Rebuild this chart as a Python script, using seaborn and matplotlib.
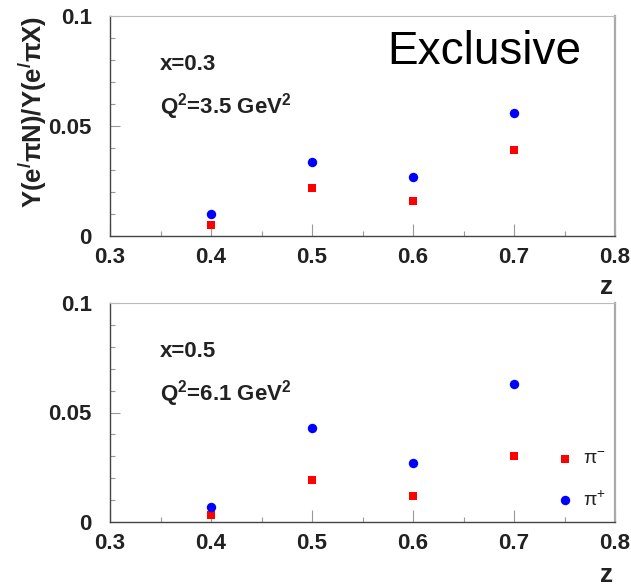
import numpy as np
import pandas as pd
import matplotlib
matplotlib.use("Agg")
import matplotlib.pyplot as plt
import seaborn as sns
from matplotlib.ticker import MultipleLocator, FixedLocator

# ---- data ----
z_values = [0.4, 0.5, 0.6, 0.7]
top_pip = [0.0100, 0.0336, 0.0268, 0.0559]
top_pim = [0.0050, 0.0218, 0.0160, 0.0390]
bot_pip = [0.0070, 0.0430, 0.0270, 0.0630]
bot_pim = [0.0030, 0.0190, 0.0120, 0.0300]
panel_x_text = ["x=0.3", "x=0.5"]
panel_q2_text = ["Q$^{2}$=3.5 GeV$^{2}$", "Q$^{2}$=6.1 GeV$^{2}$"]
series_labels = ["π$^{-}$", "π$^{+}$"]
xtick_values = [0.3, 0.4, 0.5, 0.6, 0.7, 0.8]
xtick_labels = ["0.3", "0.4", "0.5", "0.6", "0.7", "0.8"]
ytick_values = [0.0, 0.05, 0.1]
ytick_labels = ["0", "0.05", "0.1"]
ylabel_text = "Y(e$^{/}$πN)/Y(e$^{/}$πX)"
xlabel_text = "z"
title_text = "Exclusive"

sns.set_style("ticks")
plt.rcParams["font.family"] = ["Liberation Sans", "DejaVu Sans"]
plt.rcParams["mathtext.fontset"] = "custom"
plt.rcParams["mathtext.rm"] = "Liberation Sans"
plt.rcParams["mathtext.bf"] = "Liberation Sans:bold"
plt.rcParams["mathtext.default"] = "regular"

frames = []
for panel, (pip, pim) in enumerate([(top_pip, top_pim), (bot_pip, bot_pim)]):
    frames.append(pd.DataFrame({"z": z_values, "ratio": pim, "pion": series_labels[0], "panel": panel}))
    frames.append(pd.DataFrame({"z": z_values, "ratio": pip, "pion": series_labels[1], "panel": panel}))
df = pd.concat(frames, ignore_index=True)

palette = {series_labels[0]: "#ff0000", series_labels[1]: "#0000ff"}
markers = {series_labels[0]: "s", series_labels[1]: "o"}
sizes = {series_labels[0]: 36, series_labels[1]: 46}

W, H = 631, 586
fig = plt.figure(figsize=(W / 100, H / 100), dpi=100)
ax_left = 110 / W
ax_w = (615 - 110) / W
ax_top = fig.add_axes([ax_left, 1 - 236 / H, ax_w, 220 / H])
ax_bot = fig.add_axes([ax_left, 1 - 522 / H, ax_w, 219 / H])

for i, ax in enumerate([ax_top, ax_bot]):
    sub = df[df["panel"] == i]
    for lab in series_labels:
        s = sub[sub["pion"] == lab]
        sns.scatterplot(data=s, x="z", y="ratio", color=palette[lab], marker=markers[lab],
                        s=sizes[lab], linewidth=0, ax=ax, label=lab, legend=(i == 1), zorder=3)
    ax.set_xlim(0.3, 0.8)
    ax.set_ylim(0, 0.1)
    ax.xaxis.set_major_locator(FixedLocator(xtick_values))
    ax.set_xticklabels(xtick_labels)
    ax.yaxis.set_major_locator(FixedLocator(ytick_values))
    ax.set_yticklabels(ytick_labels)
    ax.xaxis.set_minor_locator(MultipleLocator(0.05))
    ax.yaxis.set_minor_locator(MultipleLocator(0.01))
    ax.set_xlabel("")
    ax.set_ylabel("")
    ax.tick_params(axis="x", which="major", direction="in", length=9, width=0.8,
                   color="#999999", pad=8, labelsize=16, labelcolor="#222222")
    ax.tick_params(axis="y", which="major", direction="in", length=7, width=0.8,
                   color="#999999", pad=13, labelsize=16, labelcolor="#222222")
    ax.tick_params(axis="both", which="minor", direction="in", length=3.5, width=0.8,
                   color="#999999")
    for lbl in ax.get_xticklabels() + ax.get_yticklabels():
        lbl.set_fontweight("bold")
    ax.spines["left"].set_color("#444444")
    ax.spines["bottom"].set_color("#444444")
    ax.spines["left"].set_linewidth(1.0)
    ax.spines["bottom"].set_linewidth(1.0)
    ax.spines["top"].set_color("#bbbbbb")
    ax.spines["right"].set_color("#aaaaaa")
    ax.spines["right"].set_linewidth(1.6)
    ax.text(0.099, 0.78, panel_x_text[i], transform=ax.transAxes, fontsize=16,
            fontweight="bold", va="center", ha="left", color="#222222")
    ax.text(0.099, 0.587, panel_q2_text[i], transform=ax.transAxes, fontsize=16,
            fontweight="bold", va="center", ha="left", color="#222222")

ax_top.text(0.549, 0.836, title_text, transform=ax_top.transAxes, fontsize=33,
            va="center", ha="left", color="black")

leg = ax_bot.legend(loc="center left", bbox_to_anchor=(0.881, 0.192), frameon=False,
                    fontsize=14, handlelength=1.0, handletextpad=0.45, borderpad=0,
                    borderaxespad=0, labelspacing=1.15)
for t in leg.get_texts():
    t.set_color("#222222")

fig.text(33 / W, 1 - 112 / H, ylabel_text, rotation=90, ha="center", va="center",
         fontsize=18.5, fontweight="bold", color="#222222")
fig.text(607 / W, 1 - 287 / H, xlabel_text, ha="center", va="center",
         fontsize=19, fontweight="bold", color="#222222")
fig.text(607 / W, 1 - 575 / H, xlabel_text, ha="center", va="center",
         fontsize=19, fontweight="bold", color="#222222")

fig.savefig("out.png", dpi=100)
